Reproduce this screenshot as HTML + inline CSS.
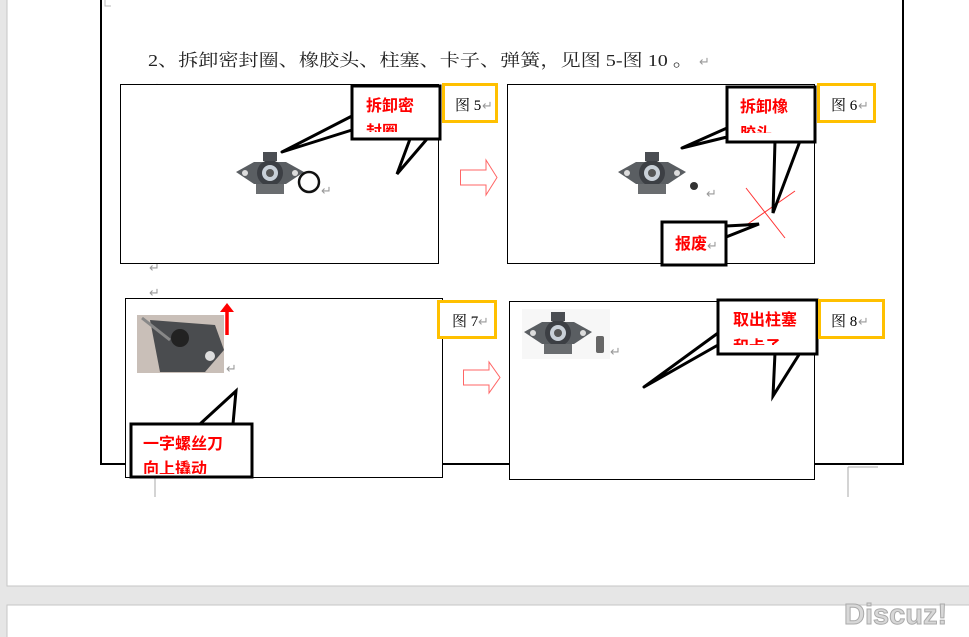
<!DOCTYPE html>
<html><head><meta charset="utf-8"><style>
html,body{margin:0;padding:0;background:#e6e6e6;}
svg{display:block;}
text{font-family:"Liberation Sans","Noto Sans CJK SC",sans-serif;}
.r{fill:#f00;font-weight:bold;font-size:16px;}
.l{fill:#000;font-size:15px;font-family:"Liberation Serif","Noto Serif CJK SC",serif;}
.rt{fill:#999;font-size:13px;}
</style></head><body>
<svg width="969" height="637" viewBox="0 0 969 637" xmlns="http://www.w3.org/2000/svg">
<defs>
<g id="part">
<polygon points="0,14 18,4 50,4 68,14 50,26 18,26" fill="#5a5e62"/>
<circle cx="34" cy="15" r="13" fill="#3c3f44"/>
<circle cx="34" cy="15" r="8" fill="#c9d0d8"/>
<circle cx="34" cy="15" r="4" fill="#555"/>
<rect x="27" y="-6" width="14" height="9" fill="#4a4d52"/>
<circle cx="9" cy="15" r="3" fill="#ddd"/>
<circle cx="59" cy="15" r="3" fill="#ddd"/>
<rect x="20" y="26" width="28" height="10" fill="#6a6d70"/>
</g>
</defs>
<rect x="0" y="0" width="969" height="637" fill="#e6e6e6"/>
<rect x="7" y="-2" width="970" height="588" fill="#fff" stroke="#c6c6c6" stroke-width="1"/>
<rect x="7" y="605" width="970" height="40" fill="#fff" stroke="#c6c6c6" stroke-width="1"/>
<rect x="101" y="-5" width="802" height="469" fill="none" stroke="#000" stroke-width="2"/>
<path d="M155,478 V497 M848,467 H878 M848,467 V497" stroke="#aaa" fill="none"/>
<path d="M105,0 v6 h6" stroke="#bbb" fill="none"/>
<text x="148" y="66" font-size="17" fill="#222" style="font-family:'Liberation Serif','Noto Serif CJK SC',serif" textLength="545" lengthAdjust="spacingAndGlyphs">2、拆卸密封圈、橡胶头、柱塞、卡子、弹簧，见图 5-图 10 。</text>
<text x="699" y="66" class="rt">↵</text>
<text x="149" y="92" class="rt">↵</text>
<text x="149" y="272" class="rt">↵</text>
<text x="149" y="297" class="rt">↵</text>

<!-- FIG 5 -->
<rect x="120.5" y="84.5" width="318" height="179" fill="#fff" stroke="#000" stroke-width="1"/>
<use href="#part" x="236" y="158"/>
<circle cx="309" cy="182" r="10" fill="none" stroke="#111" stroke-width="2.5"/>
<text x="321" y="195" class="rt">↵</text>
<polygon points="352,116 282,152 352,130" fill="#fff" stroke="#000" stroke-width="3" stroke-linejoin="round"/>
<polygon points="410,139 397,174 427,139" fill="#fff" stroke="#000" stroke-width="3"/>
<rect x="352" y="86" width="88" height="53" fill="#fff" stroke="#000" stroke-width="3"/>
<svg x="352" y="86" width="88" height="46"><text x="14" y="25" class="r">拆卸密</text><text x="14" y="51" class="r">封圈</text></svg>
<rect x="443.5" y="84.5" width="53" height="37" fill="#fff" stroke="#ffc000" stroke-width="3"/>
<text x="455" y="110" class="l">图 5</text><text x="482" y="110" class="rt">↵</text>
<polygon points="460.5,170 486,170 486,160 497,177.5 486,195 486,185 460.5,185" fill="#fff" stroke="#f66" stroke-width="1"/>

<!-- FIG 6 -->
<rect x="507.5" y="84.5" width="307" height="179" fill="#fff" stroke="#000" stroke-width="1"/>
<use href="#part" x="618" y="158"/>
<circle cx="694" cy="186" r="4" fill="#333"/>
<text x="706" y="198" class="rt">↵</text>
<path d="M746,188 L785,238 M745,226 L795,191" stroke="#f33" stroke-width="1"/>
<polygon points="727,128 682,148 727,137" fill="#fff" stroke="#000" stroke-width="3" stroke-linejoin="round"/>
<polygon points="775,141 773,213 800,141" fill="#fff" stroke="#000" stroke-width="3"/>
<polygon points="726,226 745,225 759,224 726,237" fill="#fff" stroke="#000" stroke-width="3"/>
<rect x="727" y="87" width="88" height="55" fill="#fff" stroke="#000" stroke-width="3"/>
<svg x="727" y="87" width="88" height="46"><text x="13" y="25" class="r">拆卸橡</text><text x="13" y="52" class="r">胶头</text></svg>
<rect x="662" y="222" width="64" height="43" fill="#fff" stroke="#000" stroke-width="3"/>
<text x="675" y="249" class="r">报废</text><text x="707" y="250" class="rt">↵</text>
<rect x="818.5" y="84.5" width="56" height="37" fill="#fff" stroke="#ffc000" stroke-width="3"/>
<text x="831" y="110" class="l">图 6</text><text x="858" y="110" class="rt">↵</text>

<!-- FIG 7 -->
<rect x="125.5" y="298.5" width="317" height="179" fill="#fff" stroke="#000" stroke-width="1"/>
<rect x="137" y="315" width="87" height="58" fill="#c9bfb8"/>
<polygon points="150,320 215,325 224,350 205,372 160,372" fill="#4a4c4f"/>
<circle cx="180" cy="338" r="9" fill="#222"/>
<circle cx="210" cy="356" r="5" fill="#ddd"/>
<path d="M142,318 L170,340" stroke="#888" stroke-width="3"/>
<text x="226" y="373" class="rt">↵</text>
<path d="M227,335 V309" stroke="#f00" stroke-width="3.5"/>
<polygon points="220,312 227,303 234,312" fill="#f00"/>
<polygon points="200,424 236,391 233,424" fill="#fff" stroke="#000" stroke-width="3"/>
<rect x="131" y="424" width="121" height="53" fill="#fff" stroke="#000" stroke-width="3"/>
<svg x="131" y="424" width="121" height="50"><text x="12" y="25" class="r">一字螺丝刀</text><text x="12" y="50" class="r">向上撬动</text></svg>
<rect x="438.5" y="301.5" width="57" height="36" fill="#fff" stroke="#ffc000" stroke-width="3"/>
<text x="452" y="326" class="l">图 7</text><text x="478" y="326" class="rt">↵</text>
<polygon points="463.5,370 489,370 489,362 500,377.5 489,393 489,385 463.5,385" fill="#fff" stroke="#f66" stroke-width="1"/>

<!-- FIG 8 -->
<rect x="509.5" y="301.5" width="305" height="178" fill="#fff" stroke="#000" stroke-width="1"/>
<rect x="522" y="309" width="88" height="50" fill="#f7f7f7"/>
<use href="#part" x="524" y="318"/>
<rect x="596" y="336" width="8" height="17" rx="2" fill="#666"/>
<text x="610" y="356" class="rt">↵</text>
<polygon points="718,333 644,387 718,345" fill="#fff" stroke="#000" stroke-width="3" stroke-linejoin="round"/>
<polygon points="775,353 773,396 800,353" fill="#fff" stroke="#000" stroke-width="3"/>
<rect x="718" y="300" width="99" height="54" fill="#fff" stroke="#000" stroke-width="3"/>
<svg x="718" y="300" width="99" height="45"><text x="15" y="25" class="r">取出柱塞</text><text x="15" y="52" class="r">和卡子</text></svg>
<rect x="819.5" y="300.5" width="64" height="37" fill="#fff" stroke="#ffc000" stroke-width="3"/>
<text x="831" y="326" class="l">图 8</text><text x="858" y="326" class="rt">↵</text>

<text x="844" y="624" font-size="29" font-weight="bold" fill="#d8d8d8" stroke="#aaa" stroke-width="1">Discuz!</text>
</svg>
</body></html>
